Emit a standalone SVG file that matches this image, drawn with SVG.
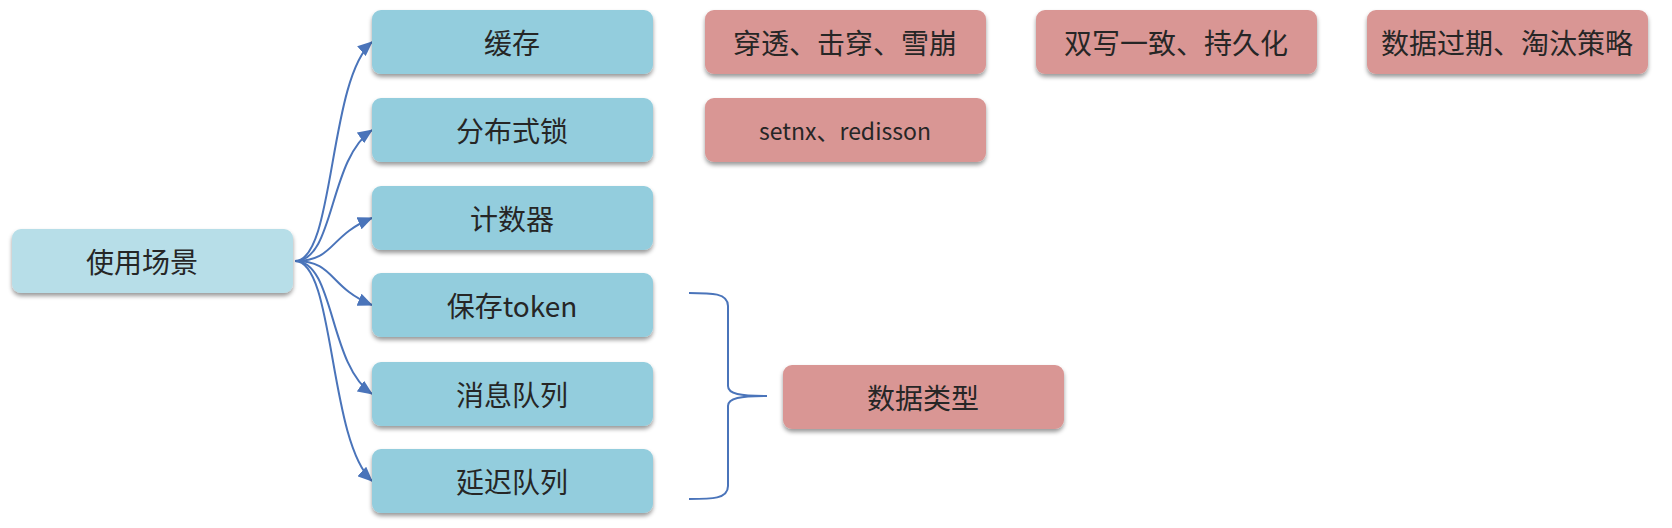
<svg xmlns="http://www.w3.org/2000/svg" width="1672" height="528" viewBox="0 0 1672 528">
<style>
.blue{fill:#93cddd;filter:url(#sh)}
.root{fill:#b7dee8;filter:url(#sh)}
.pink{fill:#d99694;filter:url(#sh)}
text{font-family:"Noto Sans CJK SC","Noto Sans",sans-serif;font-size:28px;fill:#262626;text-anchor:middle;dominant-baseline:central}
.sm{font-size:23px}
.con{fill:none;stroke:#4a74ba;stroke-width:2;marker-end:url(#arr)}
.brace{fill:none;stroke:#4a74ba;stroke-width:2}
</style>
<defs>
<filter id="sh" x="-10%" y="-20%" width="120%" height="150%">
<feDropShadow dx="0" dy="3" stdDeviation="2.2" flood-color="#000" flood-opacity="0.4"/>
</filter>
<marker id="arr" markerUnits="userSpaceOnUse" markerWidth="15" markerHeight="13" refX="14" refY="6.5" orient="auto">
<path d="M0,0 L15,6.5 L0,13 Z" fill="#4a74ba"/>
</marker>
</defs>
<rect width="1672" height="528" fill="#fff"/>
<g id="connectors">
<path class="con" d="M295,261 C335,261 328,80 372,42"/>
<path class="con" d="M295,261 C335,261 328,160 372,130"/>
<path class="con" d="M295,261 C335,261 328,236 372,218"/>
<path class="con" d="M295,261 C335,261 328,287 372,305"/>
<path class="con" d="M295,261 C335,261 328,364 372,394"/>
<path class="con" d="M295,261 C335,261 328,440 372,481"/>
<path class="brace" d="M689,293 C712,293 728,293 728,306 L728,386 C728,394 740,396 767,396 C740,396 728,398 728,406 L728,486 C728,499 712,499 689,499"/>
</g>
<g id="n-root"><rect class="root" x="12" y="229" width="281" height="64" rx="9"/><text x="142" y="261">使用场景</text></g>
<g id="n-cache"><rect class="blue" x="372" y="10" width="281" height="64" rx="9"/><text x="512" y="42">缓存</text></g>
<g id="n-lock"><rect class="blue" x="372" y="98" width="281" height="64" rx="9"/><text x="512" y="130">分布式锁</text></g>
<g id="n-counter"><rect class="blue" x="372" y="186" width="281" height="64" rx="9"/><text x="512" y="218">计数器</text></g>
<g id="n-token"><rect class="blue" x="372" y="273" width="281" height="64" rx="9"/><text x="512" y="305">保存token</text></g>
<g id="n-mq"><rect class="blue" x="372" y="362" width="281" height="64" rx="9"/><text x="512" y="394">消息队列</text></g>
<g id="n-delay"><rect class="blue" x="372" y="449" width="281" height="64" rx="9"/><text x="512" y="481">延迟队列</text></g>
<g id="n-p1"><rect class="pink" x="705" y="10" width="281" height="64" rx="9"/><text x="845" y="42">穿透、击穿、雪崩</text></g>
<g id="n-p2"><rect class="pink" x="1036" y="10" width="281" height="64" rx="9"/><text x="1176" y="42">双写一致、持久化</text></g>
<g id="n-p3"><rect class="pink" x="1367" y="10" width="281" height="64" rx="9"/><text x="1507" y="42">数据过期、淘汰策略</text></g>
<g id="n-p4"><rect class="pink" x="705" y="98" width="281" height="64" rx="9"/><text class="sm" x="845" y="130">setnx、redisson</text></g>
<g id="n-types"><rect class="pink" x="783" y="365" width="281" height="64" rx="9"/><text x="923" y="397">数据类型</text></g>
</svg>
